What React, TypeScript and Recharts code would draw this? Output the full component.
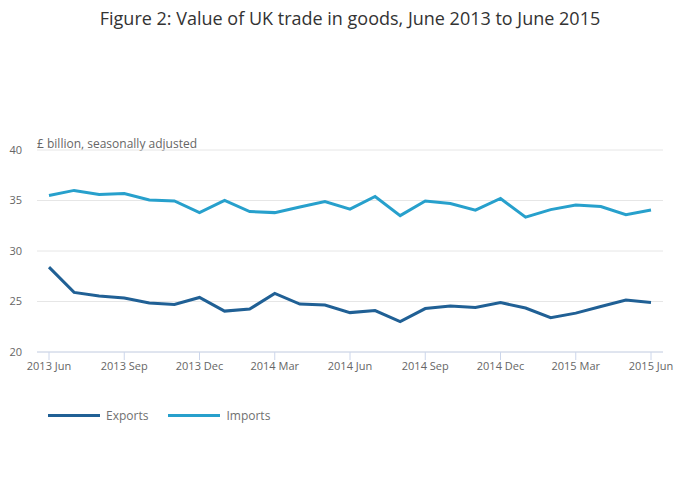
import { LineChart, Line, XAxis, YAxis, CartesianGrid } from 'recharts';

const months = [
  '2013 Jun', '2013 Jul', '2013 Aug', '2013 Sep', '2013 Oct', '2013 Nov', '2013 Dec',
  '2014 Jan', '2014 Feb', '2014 Mar', '2014 Apr', '2014 May', '2014 Jun', '2014 Jul',
  '2014 Aug', '2014 Sep', '2014 Oct', '2014 Nov', '2014 Dec',
  '2015 Jan', '2015 Feb', '2015 Mar', '2015 Apr', '2015 May', '2015 Jun',
];

const exportsBn = [
  28.4, 25.9, 25.55, 25.35, 24.85, 24.7, 25.4,
  24.05, 24.25, 25.8, 24.75, 24.65, 23.9, 24.1,
  23.0, 24.3, 24.55, 24.4, 24.9,
  24.35, 23.4, 23.85, 24.5, 25.15, 24.9,
];

const importsBn = [
  35.5, 36.0, 35.6, 35.7, 35.05, 34.95, 33.8,
  35.0, 33.9, 33.8, 34.35, 34.9, 34.15, 35.4,
  33.5, 34.95, 34.7, 34.05, 35.2,
  33.35, 34.1, 34.55, 34.4, 33.6, 34.05,
];

const yTicks = [20, 25, 30, 35, 40];

const series = [
  { key: 'Exports', color: '#206095' },
  { key: 'Imports', color: '#27a0cc' },
];

const data = months.map((m, i) => ({ month: m, Exports: exportsBn[i], Imports: importsBn[i] }));

const FONT = '"Open Sans", sans-serif';

export default function App() {
  return (
    <div style={{ position: 'absolute', left: 0, top: 0, width: 700, height: 502, background: '#fff' }}>
      <div
        style={{
          position: 'absolute', top: 6, left: 0, width: 700, textAlign: 'center',
          fontFamily: FONT, fontSize: 18, color: '#333333',
        }}
      >
        Figure 2: Value of UK trade in goods, June 2013 to June 2015
      </div>
      <div
        style={{
          position: 'absolute', top: 135, left: 37,
          fontFamily: FONT, fontSize: 12, color: '#666666',
        }}
      >
        £ billion, seasonally adjusted
      </div>
      <LineChart width={700} height={502} data={data} margin={{ top: 150, right: 37, left: 0, bottom: 120 }}>
        <CartesianGrid vertical={false} stroke="#e6e6e6" />
        <XAxis
          dataKey="month"
          interval={2}
          padding={{ left: 12, right: 12 }}
          height={30}
          tickSize={8}
          tickMargin={2}
          axisLine={{ stroke: '#ccd6eb' }}
          tickLine={{ stroke: '#ccd6eb' }}
          tick={{ fill: '#666666', fontSize: 11, fontFamily: FONT }}
        />
        <YAxis
          domain={[20, 40]}
          ticks={yTicks}
          width={37}
          axisLine={false}
          tickLine={false}
          tickSize={0}
          tickMargin={15}
          tick={{ fill: '#666666', fontSize: 11, fontFamily: FONT }}
        />
        {series.map((s) => (
          <Line key={s.key} dataKey={s.key} stroke={s.color} strokeWidth={3} dot={false} isAnimationActive={false} />
        ))}
      </LineChart>
      <div
        style={{
          position: 'absolute', top: 407, left: 48, display: 'flex',
          fontFamily: FONT, fontSize: 12, color: '#707070',
        }}
      >
        {series.map((s) => (
          <div key={s.key} style={{ display: 'flex', alignItems: 'center', marginRight: 20 }}>
            <span style={{ display: 'inline-block', width: 52, height: 3, background: s.color, marginRight: 6 }} />
            <span>{s.key}</span>
          </div>
        ))}
      </div>
    </div>
  );
}
